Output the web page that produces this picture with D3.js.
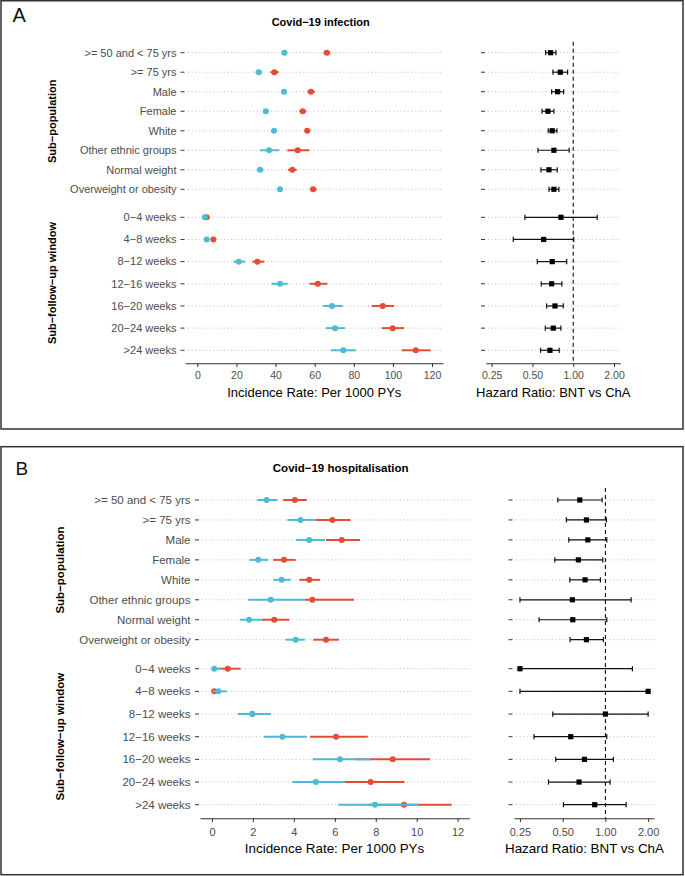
<!DOCTYPE html>
<html><head><meta charset="utf-8">
<script src="https://cdn.jsdelivr.net/npm/d3@7"></script>
<style>body{margin:0;background:#fff;} text{font-family:"Liberation Sans", Arial, Helvetica, sans-serif;}</style>
</head><body><svg id="c" width="685" height="876"></svg>
<script>
// ---------------- DATA ----------------
const subCats = [">= 50 and < 75 yrs", ">= 75 yrs", "Male", "Female", "White", "Other ethnic groups", "Normal weight", "Overweight or obesity"];
const winCats = ["0\u22124 weeks", "4\u22128 weeks", "8\u221212 weeks", "12\u221216 weeks", "16\u221220 weeks", "20\u221224 weeks", ">24 weeks"];
const infTicks = [0, 20, 40, 60, 80, 100, 120];
const hosTicks = [0, 2, 4, 6, 8, 10, 12];
const hrTicks = [0.25, 0.5, 1, 2];
const hrTickLabels = ["0.25", "0.50", "1.00", "2.00"];

// [estimate, lower, upper]  BNT = blue, ChA = red
const infSubBNT = [[44.5,43.0,46.0],[31.4,29.8,33.0],[44.3,42.8,45.8],[35.0,33.6,36.4],[39.2,38.0,40.4],[36.7,32.0,42.0],[32.1,30.5,33.8],[42.3,40.9,43.7]];
const infSubChA = [[66.2,64.5,68.0],[39.4,37.3,41.6],[58.1,56.3,60.0],[53.9,52.1,55.7],[56.2,54.8,57.7],[51.3,46.0,57.3],[48.6,46.4,50.8],[59.2,57.5,61.0]];
const infWinBNT = [[3.8,3.0,4.7],[4.8,4.0,5.7],[21.2,18.4,24.4],[42.3,38.0,46.2],[68.9,64.3,74.3],[70.4,65.8,75.5],[74.6,68.2,81.0]];
const infWinChA = [[4.8,3.9,5.8],[8.2,7.0,9.5],[30.7,28.1,34.3],[61.6,57.3,66.5],[94.8,89.2,100.6],[99.9,94.3,105.7],[111.7,104.5,119.3]];
const infSubHR = [[0.681,0.626,0.745],[0.802,0.708,0.909],[0.767,0.693,0.850],[0.650,0.588,0.720],[0.700,0.654,0.758],[0.720,0.549,0.934],[0.662,0.578,0.762],[0.720,0.662,0.784]];
const infWinHR = [[0.812,0.440,1.503],[0.605,0.361,1.007],[0.700,0.543,0.894],[0.693,0.581,0.825],[0.733,0.636,0.844],[0.712,0.622,0.812],[0.673,0.574,0.788]];

const hosSubBNT = [[2.67,2.21,3.19],[4.33,3.68,5.08],[4.75,4.10,5.52],[2.26,1.82,2.75],[3.40,2.99,3.84],[2.87,1.77,4.54],[1.81,1.37,2.43],[4.09,3.60,4.54]];
const hosSubChA = [[4.05,3.48,4.63],[5.88,5.08,6.77],[6.34,5.57,7.23],[3.52,2.99,4.09],[4.75,4.27,5.28],[4.90,4.54,6.94],[3.04,2.43,3.78],[5.57,4.95,6.20]];
const hosWinBNT = [[0.11,0.02,0.45],[0.31,0.05,0.72],[1.97,1.25,2.87],[3.44,2.54,4.63],[6.25,4.92,7.75],[5.07,3.92,6.50],[7.96,6.17,10.08]];
const hosWinChA = [[0.77,0.31,1.40],[0.11,0.02,0.30],[1.97,1.30,2.85],[6.06,4.79,7.61],[8.83,7.00,10.65],[7.75,6.40,9.40],[9.38,7.60,11.71]];
const hosSubHR = [[0.660,0.462,0.948],[0.735,0.531,1.016],[0.752,0.552,1.023],[0.645,0.440,0.958],[0.719,0.561,0.922],[0.585,0.250,1.518],[0.589,0.341,1.023],[0.735,0.564,0.968]];
const hosWinHR = [[0.250,0.250,1.550],[2.000,0.250,2.000],[1.000,0.426,2.000],[0.570,0.314,1.023],[0.712,0.447,1.139],[0.652,0.397,1.079],[0.841,0.506,1.400]];

// ---------------- DRAW ----------------
const BLUE = "#4DBBD5", RED = "#E64B35", GREY = "#4D4D4D";
const svg = d3.select("#c");

function panel(cfg) {
  const g = svg.append("g");
  g.append("rect").attr("x", cfg.box[0]).attr("y", cfg.box[1]).attr("width", cfg.box[2]).attr("height", cfg.box[3])
    .attr("fill", "none").attr("stroke", "#333").attr("stroke-width", 1.5);
  g.append("text").attr("x", cfg.letter[0]).attr("y", cfg.letter[1]).attr("font-size", cfg.letter[2]).attr("fill", "#111").text(cfg.letterText);
  g.append("text").attr("x", cfg.title[0]).attr("y", cfg.title[1]).attr("dy", "0.35em").attr("text-anchor", "middle")
    .attr("font-size", cfg.titleFs).attr("font-weight", "bold").text(cfg.titleText);

  const x = d3.scaleLinear().domain(cfg.irDomain).range(cfg.irRange);
  const h = d3.scaleLog().base(2).domain(cfg.hrDomain).range(cfg.hrRange);
  const groups = [
    {cats: subCats, y: d3.scalePoint().domain(subCats).range(cfg.subY), bnt: cfg.subBNT, cha: cfg.subChA, hr: cfg.subHR, name: "Sub\u2212population"},
    {cats: winCats, y: d3.scalePoint().domain(winCats).range(cfg.winY), bnt: cfg.winBNT, cha: cfg.winChA, hr: cfg.winHR, name: "Sub\u2212follow\u2212up window"}
  ];

  // dashed reference line at HR = 1
  g.append("line").attr("x1", h(1)).attr("x2", h(1)).attr("y1", cfg.dashTop).attr("y2", cfg.axisY)
    .attr("stroke", "#111").attr("stroke-width", 1.1).attr("stroke-dasharray", "4,3");

  groups.forEach(gr => {
    const y = gr.y;
    const rows = g.append("g");
    gr.cats.forEach((c, i) => {
      const yy = y(c);
      rows.append("line").attr("x1", cfg.gridX0).attr("x2", cfg.irRange[1]).attr("y1", yy).attr("y2", yy)
        .attr("stroke", "#bdbdbd").attr("stroke-width", 1).attr("stroke-dasharray", "1,2.6");
      rows.append("line").attr("x1", cfg.hrGridX0).attr("x2", cfg.hrRange[1]).attr("y1", yy).attr("y2", yy)
        .attr("stroke", "#bdbdbd").attr("stroke-width", 1).attr("stroke-dasharray", "1,2.6");
      rows.append("line").attr("x1", cfg.tickX0).attr("x2", cfg.tickX0 + 4).attr("y1", yy).attr("y2", yy)
        .attr("stroke", "#333").attr("stroke-width", 1);
      rows.append("line").attr("x1", cfg.hrTickX0).attr("x2", cfg.hrTickX0 + 4).attr("y1", yy).attr("y2", yy)
        .attr("stroke", "#333").attr("stroke-width", 1);
      rows.append("text").attr("x", cfg.labelX).attr("y", yy).attr("dy", "0.35em").attr("text-anchor", "end")
        .attr("font-size", cfg.fs).attr("fill", GREY).text(c);
    });
    // incidence: ChA first, BNT on top
    [[gr.cha, RED], [gr.bnt, BLUE]].forEach(([arr, col]) => {
      const s = g.append("g");
      s.selectAll("line").data(arr).join("line")
        .attr("x1", d => x(d[1])).attr("x2", d => x(d[2]))
        .attr("y1", (d, i) => y(gr.cats[i])).attr("y2", (d, i) => y(gr.cats[i]))
        .attr("stroke", col).attr("stroke-width", 2);
      s.selectAll("circle").data(arr).join("circle")
        .attr("cx", d => x(d[0])).attr("cy", (d, i) => y(gr.cats[i])).attr("r", 3).attr("fill", col);
    });
    // hazard ratios
    const hs = g.append("g");
    hs.selectAll("line.ci").data(gr.hr).join("line").attr("class", "ci")
      .attr("x1", d => h(d[1])).attr("x2", d => h(d[2]))
      .attr("y1", (d, i) => y(gr.cats[i])).attr("y2", (d, i) => y(gr.cats[i]))
      .attr("stroke", "#111").attr("stroke-width", 1.2);
    ["lo", "hi"].forEach((k, j) => {
      hs.selectAll("line.cap" + k).data(gr.hr).join("line").attr("class", "cap" + k)
        .attr("x1", d => h(d[j + 1])).attr("x2", d => h(d[j + 1]))
        .attr("y1", (d, i) => y(gr.cats[i]) - 2.6).attr("y2", (d, i) => y(gr.cats[i]) + 2.6)
        .attr("stroke", "#111").attr("stroke-width", 1.2);
    });
    hs.selectAll("rect").data(gr.hr).join("rect")
      .attr("x", d => h(d[0]) - 2.6).attr("y", (d, i) => y(gr.cats[i]) - 2.6)
      .attr("width", 5.2).attr("height", 5.2).attr("fill", "#000");

    // y titles
    const ym = (cfg.groupCenters[groups.indexOf(gr)]);
    g.append("text").attr("transform", `translate(${cfg.yTitleX},${ym}) rotate(-90)`).attr("dy", "0.35em")
      .attr("text-anchor", "middle").attr("font-size", cfg.yTitleFs).attr("font-weight", "bold").text(gr.name);
  });

  // x axes
  function styleAxis(ax) {
    ax.select(".domain").attr("stroke", "#333").attr("stroke-width", 1.1);
    ax.selectAll(".tick line").attr("stroke", "#333");
    ax.selectAll(".tick text").attr("y", cfg.tickLabelY - cfg.axisY).attr("dy", "0.35em")
      .attr("font-size", cfg.tickFs).attr("fill", GREY).attr("font-family", null);
  }
  const ax1 = g.append("g").attr("transform", `translate(0,${cfg.axisY})`)
    .call(d3.axisBottom(x).tickValues(cfg.irTicks).tickSizeInner(3.7).tickSizeOuter(0).tickFormat(d3.format("d")));
  styleAxis(ax1);
  const ax2 = g.append("g").attr("transform", `translate(0,${cfg.axisY})`)
    .call(d3.axisBottom(h).tickValues(hrTicks).tickSizeInner(3.7).tickSizeOuter(0).tickFormat((d, i) => hrTickLabels[i]));
  styleAxis(ax2);
  g.append("text").attr("x", cfg.irTitleX).attr("y", cfg.axisTitleY).attr("dy", "0.35em").attr("text-anchor", "middle")
    .attr("font-size", cfg.axisTitleFs).attr("fill", "#000").text("Incidence Rate: Per 1000 PYs");
  g.append("text").attr("x", cfg.hrTitleX).attr("y", cfg.axisTitleY).attr("dy", "0.35em").attr("text-anchor", "middle")
    .attr("font-size", cfg.axisTitleFs).attr("fill", "#000").text("Hazard Ratio: BNT vs ChA");
}

panel({
  box: [1, 0.75, 682, 428.25], letter: [12.5, 21.7, 20], letterText: "A",
  title: [320.7, 22], titleText: "Covid\u221219 infection", titleFs: 11,
  irDomain: [-6.3, 125.6], irRange: [185, 443], irTicks: infTicks,
  hrDomain: [0.226, 2.225], hrRange: [485.7, 620.3],
  subY: [52.7, 189.3], winY: [217.3, 350.3],
  subBNT: infSubBNT, subChA: infSubChA, winBNT: infWinBNT, winChA: infWinChA, subHR: infSubHR, winHR: infWinHR,
  gridX0: 188, hrGridX0: 488, tickX0: 180.5, hrTickX0: 481, labelX: 176.5,
  fs: 11, tickFs: 10.5, axisTitleFs: 13, yTitleFs: 11,
  axisY: 363.3, tickLabelY: 375, axisTitleY: 392, irTitleX: 314.3, hrTitleX: 553.3,
  dashTop: 41.7, yTitleX: 51.7, groupCenters: [121.3, 283]
});

panel({
  box: [1, 446.7, 682, 428], letter: [15.5, 475, 19], letterText: "B",
  title: [340.7, 468.3], titleText: "Covid\u221219 hospitalisation", titleFs: 11.5,
  irDomain: [-0.586, 12.57], irRange: [200, 469.3], irTicks: hosTicks,
  hrDomain: [0.227, 2.2], hrRange: [514, 654],
  subY: [500, 639.7], winY: [668.7, 804.7],
  subBNT: hosSubBNT, subChA: hosSubChA, winBNT: hosWinBNT, winChA: hosWinChA, subHR: hosSubHR, winHR: hosWinHR,
  gridX0: 202, hrGridX0: 516, tickX0: 195, hrTickX0: 508.5, labelX: 190.5,
  fs: 11.5, tickFs: 11, axisTitleFs: 13.4, yTitleFs: 11.5,
  axisY: 818.3, tickLabelY: 832.5, axisTitleY: 848.3, irTitleX: 334.5, hrTitleX: 584.5,
  dashTop: 488, yTitleX: 60, groupCenters: [570, 736.7]
});
</script></body></html>
